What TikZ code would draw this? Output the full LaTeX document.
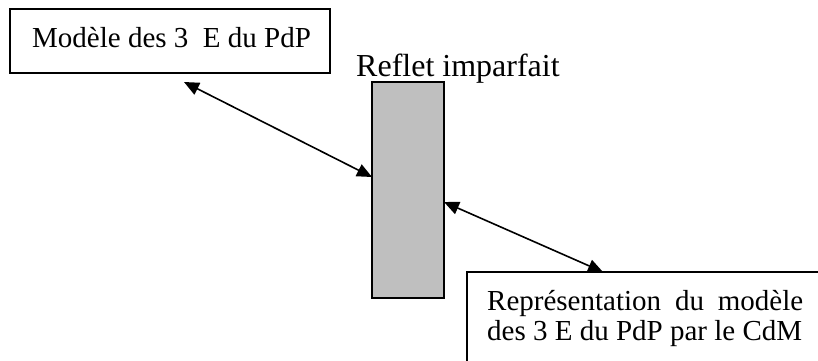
\documentclass[tikz,border=0pt]{standalone}
\usepackage{fontspec}
\setmainfont{Liberation Serif}
\usetikzlibrary{arrows.meta}
\begin{document}
\begin{tikzpicture}[x=1pt,y=-1pt,
  frame/.style={draw=black,line width=1.6pt,fill=white},
  mirror/.style={draw=black,line width=1.6pt,fill=black!25},
  link/.style={line width=1.6pt,{Triangle[length=15pt,width=13pt]}-{Triangle[length=15pt,width=13pt]}},
  lbl/.style={font=\fontsize{29}{30}\selectfont,inner sep=0pt,anchor=base west}]
\useasboundingbox (0,0) rectangle (818,360);
\begin{scope}
\clip (0,0) rectangle (818,360);
% top-left box
\draw[frame] (10,9) rectangle (330,73);
\node[lbl] (model) at (32,47) {Modèle des 3\ \ E du PdP};
\coordinate (modelfoot) at (184,82);
% imperfect mirror
\draw[mirror] (372,82) rectangle (444,298);
\coordinate (mirrorL) at (372,177);
\coordinate (mirrorR) at (444,202);
\node[lbl,font=\fontsize{32}{34}\selectfont] (reflet) at (356,76) {Reflet imparfait};
% bottom-right box, running past the page edge
\draw[frame] (467,272) rectangle (840,380);
\coordinate (reprtop) at (603,272);
\node[lbl] (repr1) at (487,310) {\makebox[316pt][s]{Représentation du modèle}};
\node[lbl] (repr2) at (487,340) {des 3 E du PdP par le CdM};
% connectors
\draw[link] (modelfoot) -- (mirrorL);
\draw[link] (mirrorR) -- (reprtop);
\end{scope}
\end{tikzpicture}
\end{document}
